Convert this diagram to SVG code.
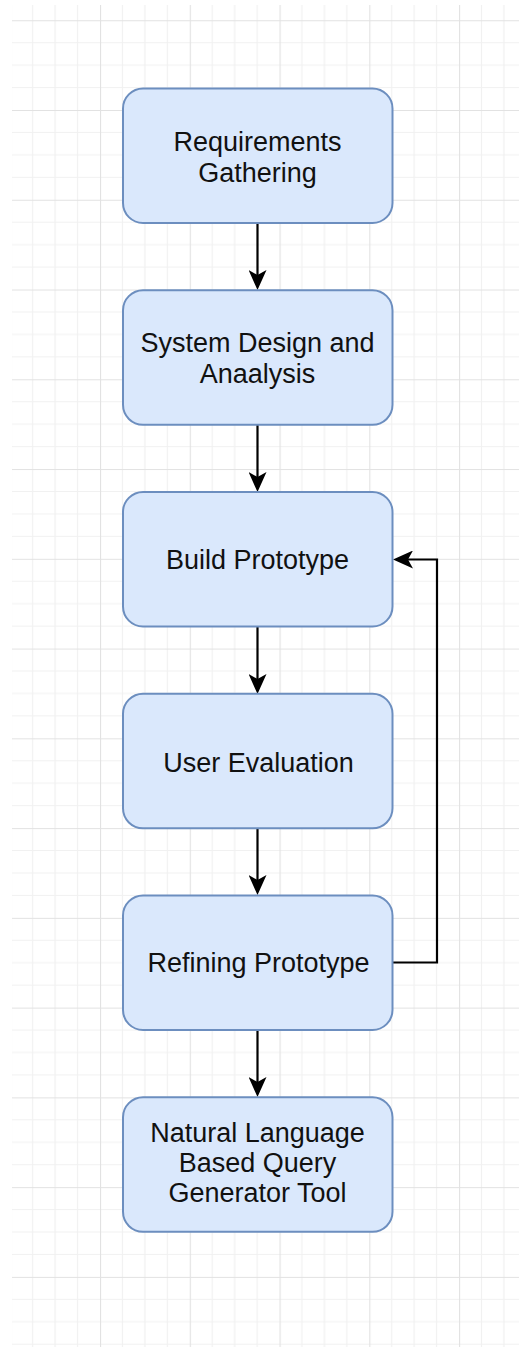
<svg xmlns="http://www.w3.org/2000/svg" width="519" height="1347" viewBox="0 0 519 1347">
  <style>
    .node rect { fill: #dae8fc; stroke: #6c8ebf; stroke-width: 2; }
    .node text { font-family: "Liberation Sans", Arial, Helvetica, sans-serif; font-size: 27px; fill: #111111; text-anchor: middle; }
    .edge { fill: none; stroke: #000000; stroke-width: 2.2; marker-end: url(#arrow); }
  </style>
  <defs>
    <!-- drawing grid: 4 minor cells per major cell -->
    <pattern id="grid" patternUnits="userSpaceOnUse" x="10.25" y="20.25" width="89.76" height="89.76">
      <path d="M22.44 0V89.76M44.88 0V89.76M67.32 0V89.76M0 22.44H89.76M0 44.88H89.76M0 67.32H89.76" stroke="#f1f1f1" stroke-width="1.2" fill="none"/>
      <path d="M0.5 0V89.76M0 0.5H89.76" stroke="#e2e2e2" stroke-width="1.2" fill="none"/>
    </pattern>
    <marker id="arrow" markerUnits="userSpaceOnUse" viewBox="0 0 20 18" markerWidth="20" markerHeight="18" refX="5" refY="9" orient="auto">
      <path d="M20 9L0 0L5 9L0 18Z" fill="#000000"/>
    </marker>
  </defs>

  <rect width="519" height="1347" fill="#ffffff"/>
  <rect x="12" y="5" width="507" height="1342" fill="url(#grid)"/>

  <g id="connectors">
    <path class="edge" d="M257.5 223V275"/>
    <path class="edge" d="M257.5 425V477"/>
    <path class="edge" d="M257.5 627V679"/>
    <path class="edge" d="M257.5 829V880"/>
    <path class="edge" d="M257.5 1030V1082"/>
    <path class="edge" d="M392.5 962.5H437V559.5H408"/>
  </g>

  <g id="requirements-gathering" class="node">
    <rect x="123" y="88.5" width="269.5" height="134.5" rx="20" ry="20"/>
    <text x="257.5" y="150.5">Requirements</text>
    <text x="257.5" y="181.5">Gathering</text>
  </g>

  <g id="system-design" class="node">
    <rect x="123" y="290.3" width="269.5" height="134.5" rx="20" ry="20"/>
    <text x="257.5" y="352">System Design and</text>
    <text x="257.5" y="383">Anaalysis</text>
  </g>

  <g id="build-prototype" class="node">
    <rect x="123" y="492" width="269.5" height="134.5" rx="20" ry="20"/>
    <text x="257.5" y="569.3">Build Prototype</text>
  </g>

  <g id="user-evaluation" class="node">
    <rect x="123" y="693.8" width="269.5" height="134.5" rx="20" ry="20"/>
    <text x="258.5" y="771.5">User Evaluation</text>
  </g>

  <g id="refining-prototype" class="node">
    <rect x="123" y="895.5" width="269.5" height="134.5" rx="20" ry="20"/>
    <text x="258.5" y="972.3">Refining Prototype</text>
  </g>

  <g id="query-generator-tool" class="node">
    <rect x="123" y="1097.3" width="269.5" height="134.5" rx="20" ry="20"/>
    <text x="257.5" y="1141.7">Natural Language</text>
    <text x="257.5" y="1171.9">Based Query</text>
    <text x="257.5" y="1202">Generator Tool</text>
  </g>
</svg>
